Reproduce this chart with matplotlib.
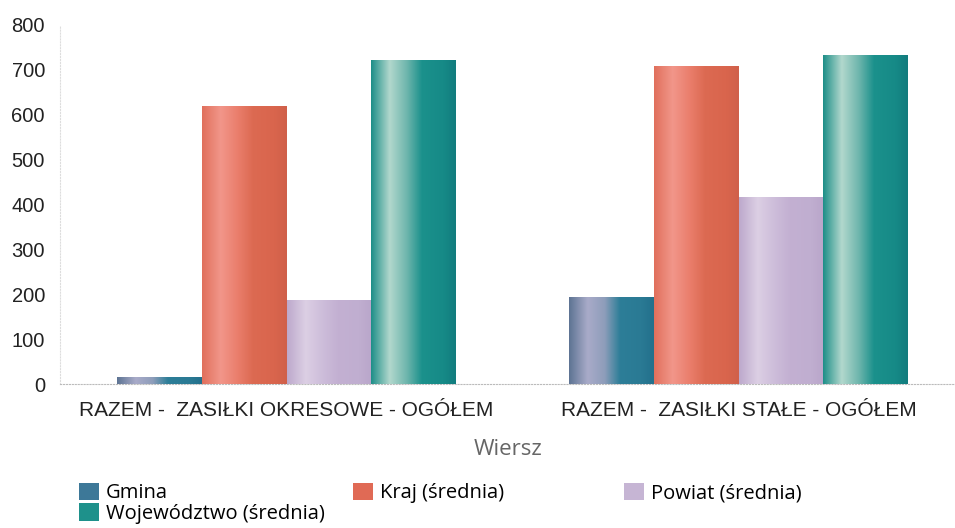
import numpy as np
import matplotlib
matplotlib.use("Agg")
import matplotlib.pyplot as plt
from matplotlib.colors import LinearSegmentedColormap
from matplotlib.patches import Patch

# dane
categories = ["RAZEM -  ZASIŁKI OKRESOWE - OGÓŁEM", "RAZEM -  ZASIŁKI STAŁE - OGÓŁEM"]
series = ["Gmina", "Kraj (średnia)", "Powiat (średnia)", "Województwo (średnia)"]
gmina = [15, 193]
kraj = [620, 709]
powiat = [187, 416]
wojewodztwo = [721, 733]
values = [gmina, kraj, powiat, wojewodztwo]
yticks = [0, 100, 200, 300, 400, 500, 600, 700, 800]

# gradienty "walcowe" dla słupków
gradients = [
    ["#5d7393", "#a9abc9", "#8e9dba", "#2d7e98", "#2a7a94", "#23708c"],
    ["#e0705c", "#f2968a", "#ea7e6c", "#dc6a52", "#d9654d", "#d0604a"],
    ["#bda9cc", "#dccfe4", "#cdbdda", "#c3b0d2", "#c0aed0", "#b9a6ca"],
    ["#1d8e88", "#b2d8cd", "#6fb6ad", "#1b918c", "#168a87", "#127c7e"],
]
legend_colors = ["#3d7898", "#e06a55", "#c6b5d4", "#1e918b"]

plt.rcParams['font.family'] = ['Liberation Sans', 'DejaVu Sans']

fig = plt.figure(figsize=(9.55, 5.28), dpi=100)
ax = fig.add_axes([0.063, 0.2727, 0.937, 0.68])

x = np.arange(len(categories))
w = 0.1875
profile = np.linspace(0, 1, 256).reshape(1, -1)
for i, (vals, stops) in enumerate(zip(values, gradients)):
    cmap = LinearSegmentedColormap.from_list(
        "g%d" % i, list(zip([0, 0.22, 0.42, 0.6, 0.85, 1.0], stops)))
    bars = ax.bar(x + (i - 1.5) * w, vals, width=w, color=legend_colors[i],
                  linewidth=0, zorder=2)
    for b in bars:
        x0, y0 = b.get_x(), b.get_y()
        im = ax.imshow(profile, cmap=cmap, aspect="auto", zorder=3,
                       extent=(x0, x0 + b.get_width(), y0, y0 + b.get_height()),
                       interpolation="bilinear")
        im.set_clip_path(b)

ax.set_xlim(-0.501, 1.479)
ax.set_ylim(0, 800)
ax.set_yticks(yticks)
ax.set_xticks(x)
ax.set_xticklabels(categories)
ax.tick_params(axis="both", length=0, colors="#222222")
ax.tick_params(axis="x", pad=12, labelsize=15)
ax.tick_params(axis="y", pad=11, labelsize=14.5)
for s in ["top", "right"]:
    ax.spines[s].set_visible(False)
ax.spines["left"].set_color("#dddddd")
ax.spines["left"].set_linestyle(":")
ax.spines["bottom"].set_color("#bbbbbb")
ax.spines["bottom"].set_linestyle(":")
ax.set_xlabel("Wiersz", fontsize=16, color="#666666", labelpad=14,
              family=["Open Sans", "DejaVu Sans"])

# legenda w trzech kolumnach, wiersz po wierszu
handles = [Patch(facecolor=c, edgecolor="none") for c in legend_colors]
columns = [([0, 3], 0.0827), ([1], 0.3696), ([2], 0.6534)]
for idx, xpos in columns:
    fig.legend([handles[k] for k in idx], [series[k] for k in idx],
               loc="upper left", bbox_to_anchor=(xpos, 0.086),
               frameon=False, handlelength=1.0,
               prop={"family": ["Open Sans", "DejaVu Sans"], "size": 14.5},
               handleheight=0.95, handletextpad=0.35,
               labelspacing=0.0, borderaxespad=0, borderpad=0)

fig.savefig("out.png", dpi=100)
